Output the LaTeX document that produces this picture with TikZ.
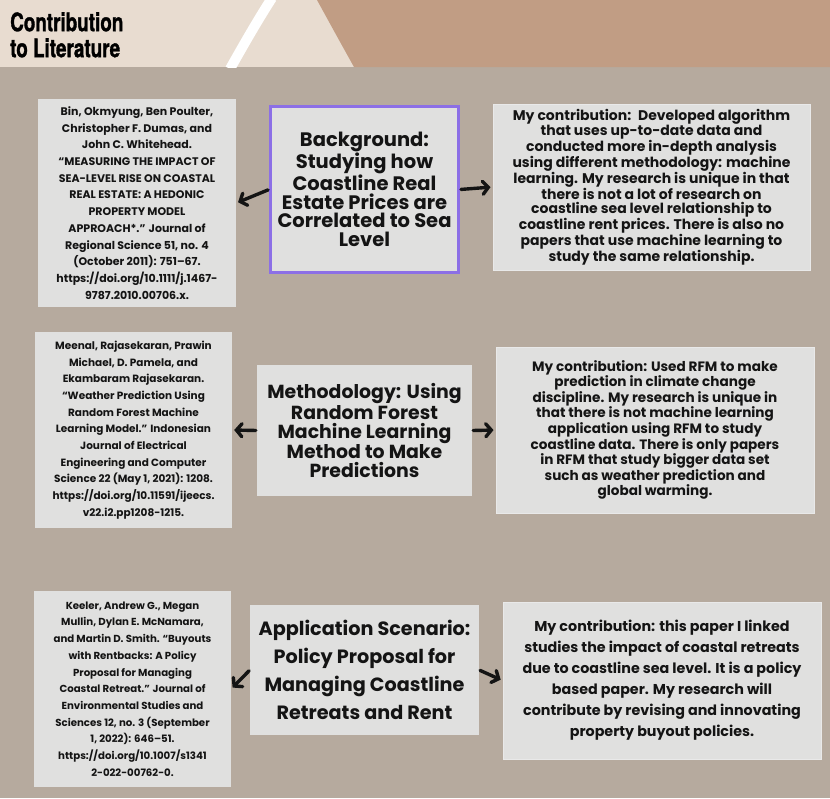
\documentclass[tikz,border=0pt]{standalone}
\usepackage{fontspec}
\setmainfont{Poppins}
\newfontfamily\titlefont[FakeStretch=0.74, FakeBold=1.2]{TeX Gyre Heros}
\usepackage{tikz}
\usetikzlibrary{positioning, arrows.meta}

\definecolor{taupe}{HTML}{B6AA9E}
\definecolor{beige}{HTML}{E8DCD0}
\definecolor{clay}{HTML}{C19D84}
\definecolor{boxgray}{HTML}{E0E0DF}
\definecolor{lilac}{HTML}{8C6FE6}
\definecolor{ink}{HTML}{141414}

\begin{document}
\begin{tikzpicture}[
    x=1pt, y=-1pt,
    refbox/.style={
        rectangle,
        fill=boxgray,
        inner sep=0pt,
        align=center,
        text=ink,
        font=\fontsize{10.5}{16.7}\selectfont\bfseries
    },
    topic/.style={
        rectangle,
        fill=boxgray,
        inner sep=0pt,
        align=center,
        text=ink,
        font=\fontsize{19.5}{18.5}\selectfont\bfseries
    },
    contrib/.style={
        rectangle,
        fill=boxgray,
        draw=boxgray!70!white,
        line width=1pt,
        inner sep=0pt,
        align=center,
        text=ink,
        font=\fontsize{14}{14.2}\selectfont\bfseries
    },
    arrow/.style={
        line width=3.4pt,
        line cap=round,
        ink,
        -{Straight Barb[length=5.5pt,width=13pt,line cap=round]},
        shorten <=1pt,
        shorten >=2pt
    }
]

\useasboundingbox (0,0) rectangle (830,798);

% Backdrop
\fill[taupe] (0,0) rectangle (830,798);
\fill[beige] (0,0) rectangle (830,67);
\fill[clay] (317,0) -- (830,0) -- (830,67) -- (354,67)
    .. controls (340,42) and (328,20) .. cycle;
\begin{scope}
    \clip (0,0) rectangle (830,67);
    \draw[white, line width=10pt] (272,-2) .. controls (259,18) and (244,44) .. (230,69);
\end{scope}

% Title
\node[anchor=north west, inner sep=0pt, align=left, text=black,
      font=\titlefont\fontsize{25.5}{26}\selectfont\bfseries] (title) at (10,12)
    {Contribution\\to Literature};

% Row 1: Background
\node[refbox, font=\fontsize{11}{16.7}\selectfont\bfseries, minimum width=198pt, minimum height=208pt] (ref1) at (137,203) {
    Bin, Okmyung, Ben Poulter,\\
    Christopher F. Dumas, and\\
    John C. Whitehead.\\
    “MEASURING THE IMPACT OF\\
    SEA-LEVEL RISE ON COASTAL\\
    REAL ESTATE: A HEDONIC\\
    PROPERTY MODEL\\
    APPROACH*.” Journal of\\
    Regional Science 51, no. 4\\
    (October 2011): 751–67.\\
    https://doi.org/10.1111/j.1467-\\
    9787.2010.00706.x.
};

\node[topic, draw=lilac, line width=3pt, minimum width=188pt, minimum height=166pt] (background) at (364.5,189.5) {
    Background:\\
    Studying how\\
    Coastline Real\\
    Estate Prices are\\
    Correlated to Sea\\
    Level
};

\node[contrib, minimum width=317pt, minimum height=166pt] (contrib1) at (651.5,187) {
    My contribution:~ Developed algorithm\\
    that uses up-to-date data and\\
    conducted more in-depth analysis\\
    using different methodology: machine\\
    learning. My research is unique in that\\
    there is not a lot of research on\\
    coastline sea level relationship to\\
    coastline rent prices. There is also no\\
    papers that use machine learning to\\
    study the same relationship.
};

% Row 2: Methodology
\node[refbox, minimum width=197pt, minimum height=196pt] (ref2) at (133.5,430) {
    Meenal, Rajasekaran, Prawin\\
    Michael, D. Pamela, and\\
    Ekambaram Rajasekaran.\\
    “Weather Prediction Using\\
    Random Forest Machine\\
    Learning Model.” Indonesian\\
    Journal of Electrical\\
    Engineering and Computer\\
    Science 22 (May 1, 2021): 1208.\\
    https://doi.org/10.11591/ijeecs.\\
    v22.i2.pp1208-1215.
};

\node[topic, font=\fontsize{18.9}{19}\selectfont\bfseries, minimum width=215pt, minimum height=131pt] (method) at (364.5,430.5) {
    Methodology: Using\\
    Random Forest\\
    Machine Learning\\
    Method to Make\\
    Predictions
};

\node[contrib, font=\fontsize{13.6}{14.2}\selectfont\bfseries, minimum width=318pt, minimum height=166pt] (contrib2) at (655,430) {
    My contribution: Used RFM to make\\
    prediction in climate change\\
    discipline. My research is unique in\\
    that there is not machine learning\\
    application using RFM to study\\
    coastline data. There is only papers\\
    in RFM that study bigger data set\\
    such as weather prediction and\\
    global warming.
};

% Row 3: Application
\node[refbox, font=\fontsize{10.2}{16.7}\selectfont\bfseries, minimum width=197pt, minimum height=196pt] (ref3) at (132.5,689) {
    Keeler, Andrew G., Megan\\
    Mullin, Dylan E. McNamara,\\
    and Martin D. Smith. “Buyouts\\
    with Rentbacks: A Policy\\
    Proposal for Managing\\
    Coastal Retreat.” Journal of\\
    Environmental Studies and\\
    Sciences 12, no. 3 (September\\
    1, 2022): 646–51.\\
    https://doi.org/10.1007/s1341\\
    2-022-00762-0.
};

\node[topic, font=\fontsize{19.2}{28}\selectfont\bfseries, minimum width=229pt, minimum height=130pt] (application) at (364.5,670) {
    Application Scenario:\\
    Policy Proposal for\\
    Managing Coastline\\
    Retreats and Rent
};

\node[contrib, font=\fontsize{14.3}{21}\selectfont\bfseries, minimum width=318pt, minimum height=157pt] (contrib3) at (662,680.5) {
    My contribution: this paper I linked\\
    studies the impact of coastal retreats\\
    due to coastline sea level. It is a policy\\
    based paper. My research will\\
    contribute by revising and innovating\\
    property buyout policies.
};

% Arrows
\draw[arrow] (background.west) -- (ref1.east);
\draw[arrow] (background.east) -- (contrib1.west);
\draw[arrow] (method.west) -- (ref2.east);
\draw[arrow] (method.east) -- (contrib2.west);
\draw[arrow] (application.west) -- (ref3.east);
\draw[arrow] (application.east) -- (contrib3.west);

\end{tikzpicture}
\end{document}
